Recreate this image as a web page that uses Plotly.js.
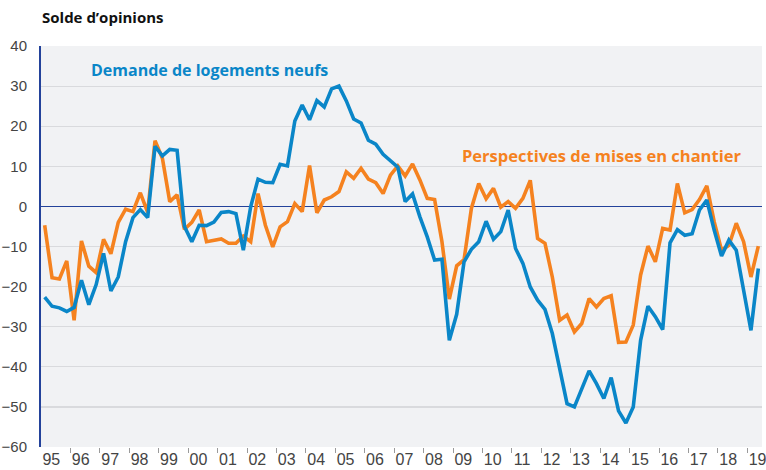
<!DOCTYPE html>
<html>
<head>
<meta charset="utf-8">
<script src="https://cdn.plot.ly/plotly-3.0.1.min.js"></script>
<style>html,body{margin:0;padding:0;background:#fff;}#chart{width:766px;height:470px;}</style>
</head>
<body>
<div id="chart"></div>
<script>
// Quarterly series, 1995 Q1 to 2019 Q2
var startYear = 1995;
var demandeLogementsNeufs = [
  -22.6, -24.9, -25.3, -26.2, -25.2, -18.4, -24.5, -19.5,
  -11.7, -21.1, -17.6, -8.8, -2.8, -0.8, -2.8, 15.0,
  12.6, 14.2, 14.0, -5.0, -8.8, -4.7, -4.8, -3.9,
  -1.5, -1.3, -1.8, -10.9, -0.1, 6.8, 6.0, 5.9,
  10.5, 10.1, 21.3, 25.3, 21.6, 26.4, 24.8, 29.3,
  30.0, 26.3, 21.8, 20.8, 16.5, 15.5, 13.0, 11.4,
  9.8, 1.2, 3.1, -2.6, -7.6, -13.4, -13.2, -33.4,
  -26.9, -13.8, -10.7, -8.8, -3.7, -8.2, -6.3, -0.9,
  -10.5, -14.2, -20.1, -23.4, -25.7, -31.7, -40.9, -49.2,
  -50.0, -45.4, -41.0, -44.2, -47.9, -42.7, -51.0, -54.0,
  -50.0, -33.4, -24.9, -27.5, -30.7, -9.1, -5.8, -7.2,
  -6.8, -0.9, 1.6, -5.9, -12.4, -8.4, -10.9, -20.9,
  -30.9, -15.5
];
var perspectivesMisesEnChantier = [
  -4.7, -17.8, -18.1, -13.6, -28.4, -8.6, -14.9, -16.5,
  -8.2, -11.8, -4.0, -0.7, -1.3, 3.4, -1.5, 16.4,
  12.0, 1.2, 2.9, -5.7, -4.0, -0.9, -8.8, -8.4,
  -8.1, -9.2, -9.2, -7.4, -8.8, 3.2, -4.7, -10.1,
  -5.1, -3.8, 0.7, -1.3, 10.2, -1.6, 1.6, 2.4,
  3.7, 8.6, 7.0, 9.5, 6.8, 5.9, 3.2, 7.8,
  10.1, 7.6, 10.6, 6.6, 2.0, 1.7, -8.8, -23.1,
  -14.8, -13.3, -0.5, 5.7, 1.9, 4.5, -0.2, 1.2,
  -0.5, 2.0, 6.5, -8.0, -9.2, -17.6, -28.4, -27.1,
  -31.3, -29.2, -23.0, -25.1, -23.0, -22.3, -33.9, -33.8,
  -29.6, -17.1, -9.9, -13.8, -5.5, -5.9, 5.7, -1.6,
  -0.8, 1.7, 5.1, -3.8, -10.9, -9.7, -4.2, -8.8,
  -17.6, -9.9
];
var yearLabels = ["95","96","97","98","99","00","01","02","03","04","05","06",
                  "07","08","09","10","11","12","13","14","15","16","17","18","19"];
var yTicks = [-60, -50, -40, -30, -20, -10, 0, 10, 20, 30, 40];
var yGrid = [-50, -40, -30, -20, -10, 10, 20, 30];

// quarter mid-points as fractional years
var quarters = demandeLogementsNeufs.map(function (v, i) { return startYear + (i + 0.5) / 4; });
var labelPos = yearLabels.map(function (l, i) { return startYear + i + 0.35; });
var yearBounds = yearLabels.slice(1).map(function (l, i) { return startYear + i + 1; });

var blue = '#0a86c8';
var orange = '#f5821f';
var navy = '#23429a';

var traces = [
  {x: quarters, y: perspectivesMisesEnChantier, type: 'scatter', mode: 'lines',
   line: {color: orange, width: 3.6}, hoverinfo: 'skip', name: 'Perspectives de mises en chantier'},
  {x: quarters, y: demandeLogementsNeufs, type: 'scatter', mode: 'lines',
   line: {color: blue, width: 3.6}, hoverinfo: 'skip', name: 'Demande de logements neufs'}
];

var layout = {
  width: 766, height: 470,
  margin: {l: 41, r: 4, t: 46, b: 23, pad: 0},
  paper_bgcolor: '#ffffff',
  plot_bgcolor: '#f1f2f4',
  showlegend: false,
  font: {family: 'Open Sans, Liberation Sans, sans-serif', color: '#444'},
  xaxis: {
    range: [1995, 2019.5],
    tickmode: 'array', tickvals: labelPos, ticktext: yearLabels,
    ticks: '', showgrid: false, zeroline: false, showline: false,
    tickfont: {size: 16, color: '#444', family: 'Liberation Sans, Arial, sans-serif'},
    ticklabelstandoff: 1,
    ticklabeloverflow: 'allow',
    minor: {tickmode: 'array', tickvals: yearBounds, ticks: 'outside', ticklen: 5,
            tickcolor: '#9a9a9a', tickwidth: 1, showgrid: false},
    fixedrange: true
  },
  yaxis: {
    range: [-60, 40],
    tickmode: 'array', tickvals: yTicks,
    ticks: '', showgrid: false,
    zeroline: true, zerolinecolor: navy, zerolinewidth: 1.6,
    showline: true, linecolor: navy, linewidth: 2,
    tickfont: {size: 15, color: '#444', family: 'Liberation Sans, Arial, sans-serif'},
    ticklabelstandoff: 9,
    minor: {tickmode: 'array', tickvals: yGrid, ticks: '', showgrid: true,
            gridcolor: '#d9dadd', gridwidth: 1.2},
    fixedrange: true
  },
  annotations: [
    {xref: 'paper', yref: 'paper', x: -0.001, y: 1, yshift: 29, xanchor: 'left', yanchor: 'middle',
     text: 'Solde d\u2019opinions', showarrow: false,
     font: {size: 15, color: '#111', family: 'Open Sans, sans-serif', weight: 700}},
    {x: 1996.62, y: 34, xanchor: 'left', yanchor: 'middle', showarrow: false,
     text: 'Demande de logements neufs',
     font: {size: 16, color: blue, family: 'Open Sans, sans-serif', weight: 700}},
    {x: 2009.24, y: 12.8, xanchor: 'left', yanchor: 'middle', showarrow: false,
     text: 'Perspectives de mises en chantier',
     font: {size: 16.5, color: orange, family: 'Open Sans, sans-serif', weight: 700}}
  ]
};

Plotly.newPlot('chart', traces, layout, {staticPlot: true, displayModeBar: false});
</script>
</body>
</html>
